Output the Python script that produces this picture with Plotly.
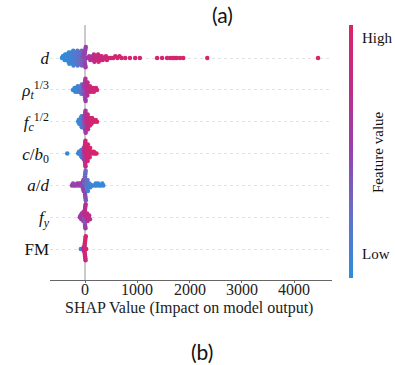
import math
import plotly.graph_objects as go

# SHAP value, normalised feature value (0 = low, 100 = high) for each sample
d_points = [
    (-440, 2), (-425, 3), (-410, 1), (-400, 4), (-390, 2), (-380, 5), (-370, 3), (-365, 6),
    (-355, 4), (-350, 2), (-340, 7), (-335, 5), (-330, 8), (-320, 3), (-315, 6), (-310, 9),
    (-300, 4), (-295, 7), (-290, 10), (-285, 5), (-280, 8), (-270, 11), (-265, 6), (-260, 9),
    (-255, 12), (-250, 7), (-245, 10), (-240, 13), (-235, 8), (-230, 14), (-225, 11), (-220, 9),
    (-215, 15), (-210, 12), (-205, 10), (-200, 16), (-195, 13), (-190, 18), (-185, 11), (-180, 17),
    (-175, 14), (-170, 19), (-165, 15), (-160, 20), (-155, 16), (-150, 22), (-145, 18), (-140, 21),
    (-135, 17), (-130, 24), (-125, 19), (-120, 23), (-115, 25), (-110, 20), (-105, 26), (-100, 22),
    (-95, 28), (-90, 24), (-85, 27), (-80, 30), (-75, 25), (-70, 32), (-65, 29), (-60, 34),
    (-50, 36), (-45, 40), (-40, 33), (-35, 42), (-30, 38), (-25, 45), (-20, 40), (-15, 47),
    (-10, 43), (-8, 50), (-5, 44), (-3, 48), (0, 52), (2, 46), (5, 54), (8, 50), (10, 56), (15, 52),
    (40, 58), (60, 62), (80, 60), (100, 66), (120, 64), (140, 70),
    (150, 72), (160, 76), (170, 74), (180, 80), (190, 78), (200, 82), (210, 76), (220, 84),
    (230, 80), (240, 86), (250, 82), (260, 88), (270, 84), (280, 86), (290, 90), (300, 85),
    (320, 88), (340, 92), (360, 87), (380, 90), (400, 93), (420, 89), (450, 94), (480, 91),
    (510, 95), (540, 92), (580, 96), (620, 94), (660, 97), (700, 95),
    (770, 96), (860, 97), (960, 95), (1050, 98), (1380, 97), (1475, 98), (1570, 96), (1630, 99),
    (1680, 98), (1720, 99), (1760, 97), (1820, 100), (1880, 98), (2340, 99), (4460, 100),
]

rho_points = [
    (-230, 3), (-215, 6), (-200, 2), (-185, 8), (-170, 5), (-160, 10), (-150, 4), (-140, 12),
    (-130, 7), (-120, 14), (-110, 9), (-100, 16), (-95, 11), (-90, 18), (-80, 13), (-70, 20), (-60, 22),
    (-50, 24), (-45, 30), (-40, 27), (-35, 34), (-30, 31), (-25, 38),
    (-18, 40), (-15, 46), (-12, 35), (-10, 52), (-8, 44), (-5, 58), (-3, 48), (0, 55),
    (2, 42), (4, 62), (6, 50), (8, 66), (12, 57),
    (22, 60), (25, 68), (28, 55), (32, 72), (36, 64), (40, 75), (45, 70), (50, 78),
    (65, 80), (75, 84), (85, 78), (95, 86), (105, 82), (115, 88), (125, 85), (140, 90),
    (155, 87), (170, 92), (190, 94), (210, 91), (230, 96),
]

fc_points = [
    (-130, 4), (-120, 8), (-110, 3), (-100, 10), (-90, 6), (-85, 12), (-80, 5), (-70, 14),
    (-65, 9), (-60, 16), (-55, 11), (-50, 18),
    (-45, 20), (-40, 26), (-35, 22), (-30, 30), (-25, 28),
    (-18, 32), (-15, 40), (-12, 36), (-10, 45), (-7, 38), (-5, 50), (-2, 42), (0, 55),
    (2, 47), (5, 60), (8, 52), (10, 64), (13, 58),
    (22, 66), (26, 72), (30, 68), (34, 76), (38, 70), (42, 80), (46, 74), (52, 82), (56, 78),
    (65, 84), (72, 88), (80, 85), (88, 90), (95, 87), (105, 92), (115, 89), (125, 94),
    (135, 91), (150, 95), (165, 93), (185, 97), (205, 96), (230, 99),
]

cb_points = [
    (-340, 5),
    (-130, 8), (-115, 12), (-100, 6), (-90, 15), (-80, 10), (-70, 18), (-60, 14), (-50, 20),
    (-45, 24), (-40, 30), (-35, 27), (-30, 35), (-25, 32), (-22, 40),
    (-18, 45), (-16, 60), (-14, 52), (-12, 70), (-10, 48), (-8, 75), (-6, 58), (-4, 80),
    (-2, 65), (0, 85), (2, 72), (4, 88), (6, 78), (8, 90), (10, 82),
    (22, 84), (25, 90), (28, 80), (31, 92), (34, 86), (37, 94), (40, 88), (45, 95), (50, 91), (55, 96),
    (62, 93), (68, 97), (75, 92), (82, 98), (90, 94), (98, 99),
    (110, 95), (130, 98), (150, 96), (170, 99), (190, 97), (220, 100),
]

ad_points = [
    (-250, 52), (-230, 48), (-210, 55), (-180, 50), (-150, 58), (-130, 53), (-110, 56), (-90, 50), (-75, 54),
    (-55, 45), (-50, 55), (-45, 40), (-40, 58), (-35, 42), (-30, 60), (-25, 38),
    (-18, 50), (-16, 35), (-14, 55), (-12, 30), (-10, 60), (-8, 40), (-6, 52), (-4, 28),
    (-2, 48), (0, 35), (2, 58), (4, 25), (6, 45), (8, 32), (10, 42), (12, 22), (15, 38),
    (22, 20), (26, 28), (30, 18), (35, 25), (40, 15), (48, 22), (55, 12),
    (70, 14), (85, 10), (100, 12), (120, 8), (140, 10), (190, 6), (205, 8), (220, 5),
    (250, 7), (270, 4), (300, 6), (330, 3), (350, 5),
]

fy_points = [
    (-100, 55), (-85, 60), (-70, 52), (-60, 58), (-50, 62), (-45, 50), (-40, 65), (-35, 56),
    (-30, 68), (-25, 60),
    (-18, 40), (-15, 70), (-12, 35), (-10, 75), (-8, 45), (-6, 80), (-4, 30), (-2, 72),
    (0, 38), (2, 78), (4, 50), (6, 68), (8, 55), (12, 74),
    (22, 72), (28, 80), (34, 66), (40, 78), (48, 70),
    (65, 76), (80, 72), (95, 74),
]

fm_points = [
    (-80, 5),
    (-30, 92), (-25, 88), (-22, 60),
    (-15, 95), (-12, 90), (-10, 97), (-8, 85), (-6, 93), (-4, 98), (-2, 88), (0, 96),
    (2, 91), (4, 99), (6, 86), (8, 94), (10, 89), (14, 97),
    (22, 93),
]

# rows from bottom (0) to top (6)
row_points = [fm_points, fy_points, ad_points, cb_points, fc_points, rho_points, d_points]
row_labels = [
    "FM",
    "<i>f</i><sub><i>y</i></sub>",
    "<i>a</i>/<i>d</i>",
    "<i>c</i>/<i>b</i><sub>0</sub>",
    "<i>f</i><sub><i>c</i></sub><sup>1/2</sup>",
    "<i>ρ</i><sub><i>t</i></sub><sup>1/3</sup>",
    "<i>d</i>",
]
x_ticks = [0, 1000, 2000, 3000, 4000]

BIN_W = 40      # horizontal bin width used for stacking points
LAYER = 0.058   # vertical step between stacked points (row units)


def beeswarm(points, row):
    counts = {}
    xs, ys, cs = [], [], []
    for v, f in points:
        b = round(v / BIN_W)
        k = counts.get(b, 0)
        counts[b] = k + 1
        off = math.ceil(k / 2) * (1 if k % 2 else -1)
        xs.append(v)
        ys.append(row + off * LAYER)
        cs.append(f)
    return xs, ys, cs


all_x, all_y, all_c = [], [], []
for r, pts in enumerate(row_points):
    xs, ys, cs = beeswarm(pts, r)
    all_x += xs
    all_y += ys
    all_c += cs

colorscale = [
    [0.0, "#2a8fdc"],
    [0.25, "#6470c8"],
    [0.5, "#9642ae"],
    [0.75, "#be2c8a"],
    [1.0, "#d8246a"],
]

L, R, T, B = 50, 63, 25, 85
W, H = 395, 365
pw, ph = W - L - R, H - T - B


def px(x):
    return (x - L) / pw


def py(y):
    return (H - B - y) / ph


serif = "Liberation Serif, Times New Roman, serif"

fig = go.Figure()
fig.add_trace(go.Scatter(
    x=all_x, y=all_y, mode="markers",
    marker=dict(
        size=4.5, color=all_c, cmin=0, cmax=100, colorscale=colorscale,
        line=dict(width=0),
        showscale=True,
        colorbar=dict(
            thickness=4, thicknessmode="pixels",
            len=253, lenmode="pixels",
            x=px(349), xanchor="left", y=py(151.5), yanchor="middle",
            outlinewidth=0, xpad=0, ypad=0,
            showticklabels=False, ticks="",
        ),
    ),
    hoverinfo="skip", showlegend=False,
))

fig.add_shape(type="line", x0=0, x1=0, y0=0, y1=1, xref="x", yref="paper",
              line=dict(color="#bdbdbd", width=1.6), layer="below")

annotations = [
    dict(text=str(t), x=t, y=py(289), xref="x", yref="paper", showarrow=False,
         xanchor="center", yanchor="middle", font=dict(family=serif, size=16, color="#222"))
    for t in x_ticks
]
annotations += [
    dict(text="SHAP Value (Impact on model output)", x=px(189), y=py(308),
         xref="paper", yref="paper", showarrow=False, xanchor="center", yanchor="middle",
         font=dict(family=serif, size=16, color="#222")),
    dict(text="High", x=px(360), y=py(38), xref="paper", yref="paper", showarrow=False,
         xanchor="left", yanchor="middle", font=dict(family=serif, size=15, color="#111")),
    dict(text="Low", x=px(360), y=py(254), xref="paper", yref="paper", showarrow=False,
         xanchor="left", yanchor="middle", font=dict(family=serif, size=15, color="#111")),
    dict(text="Feature value", x=px(378), y=py(152), xref="paper", yref="paper", showarrow=False,
         textangle=-90, xanchor="center", yanchor="middle",
         font=dict(family=serif, size=15, color="#111")),
    dict(text="(a)", x=px(222), y=py(15), xref="paper", yref="paper", showarrow=False,
         xanchor="center", yanchor="middle", font=dict(family="Lato, sans-serif", size=21, color="#111")),
    dict(text="(b)", x=px(202), y=py(352), xref="paper", yref="paper", showarrow=False,
         xanchor="center", yanchor="middle", font=dict(family="Lato, sans-serif", size=21, color="#111")),
]

fig.update_layout(
    width=W, height=H,
    margin=dict(l=L, r=R, t=T, b=B),
    paper_bgcolor="white", plot_bgcolor="white",
    font=dict(family=serif, color="#111"),
    xaxis=dict(
        range=[-670, 4727], tickvals=x_ticks, showticklabels=False,
        showgrid=False, zeroline=False,
        showline=True, linecolor="#666", linewidth=1,
        ticks="outside", ticklen=2, tickcolor="#666",
    ),
    yaxis=dict(
        range=[-0.97, 7.04], tickvals=list(range(7)), ticktext=row_labels,
        showgrid=True, gridcolor="#e3e3e3", griddash="dot", gridwidth=1,
        zeroline=False, showline=False, ticks="",
        tickfont=dict(family=serif, size=17, color="#111"),
    ),
    annotations=annotations,
)

fig.write_html("out.html")
